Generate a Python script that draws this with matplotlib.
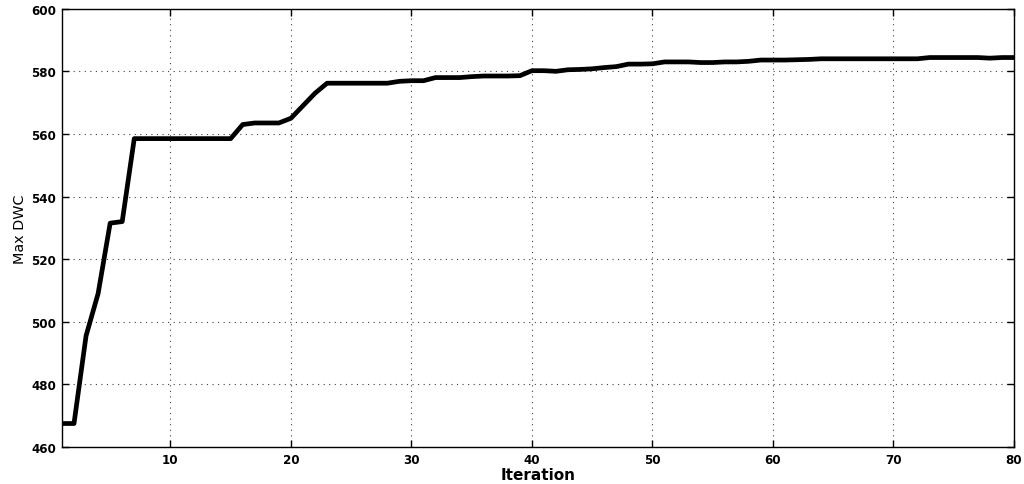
import matplotlib
matplotlib.use("Agg")
import matplotlib.pyplot as plt
import numpy as np

# Max DWC per iteration
iterations = np.arange(1, 81)
max_dwc = [
    467.5, 467.5, 495.5, 509.0, 531.5, 532.0, 558.5, 558.5, 558.5, 558.5,
    558.5, 558.5, 558.5, 558.5, 558.5, 563.0, 563.5, 563.5, 563.5, 565.0,
    569.0, 573.0, 576.2, 576.2, 576.2, 576.2, 576.2, 576.2, 576.8, 577.0,
    577.0, 578.0, 578.0, 578.0, 578.3, 578.5, 578.5, 578.5, 578.6, 580.2,
    580.2, 580.0, 580.5, 580.6, 580.8, 581.2, 581.5, 582.3, 582.3, 582.4,
    583.0, 583.0, 583.0, 582.8, 582.8, 583.0, 583.0, 583.2, 583.6, 583.6,
    583.6, 583.7, 583.8, 584.0, 584.0, 584.0, 584.0, 584.0, 584.0, 584.0,
    584.0, 584.0, 584.4, 584.4, 584.4, 584.4, 584.4, 584.2, 584.4, 584.4,
]
x_ticks = [10, 20, 30, 40, 50, 60, 70, 80]
y_ticks = [460, 480, 500, 520, 540, 560, 580, 600]

plt.rcParams['font.family'] = ['DejaVu Sans']

fig = plt.figure(figsize=(10.24, 4.85), dpi=100)
ax = fig.add_axes([0.0605, 0.0763, 0.9297, 0.9037])

ax.plot(iterations, max_dwc, color="black", linewidth=3.4, solid_joinstyle="round")

ax.set_xlim(1, 80)
ax.set_ylim(460, 600)
ax.set_xticks(x_ticks)
ax.set_yticks(y_ticks)
ax.grid(True, linestyle=(0, (1, 4)), color="black", linewidth=0.8, alpha=0.75)

ax.tick_params(direction="in", top=True, right=True, length=5, width=1,
               labelsize=8.6, pad=4)
for lbl in ax.get_xticklabels() + ax.get_yticklabels():
    lbl.set_fontweight("bold")
for s in ax.spines.values():
    s.set_linewidth(1.0)

ax.set_xlabel("Iteration", fontsize=11, fontweight="bold", labelpad=1)
ax.set_ylabel("Max DWC", fontsize=10.4, fontweight="medium", labelpad=3)

fig.savefig("out.png", dpi=100)
